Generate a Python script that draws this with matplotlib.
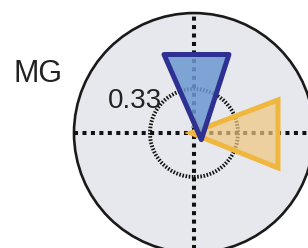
import matplotlib.pyplot as plt
from matplotlib.patches import Circle, Polygon

# polar-style direction plot, outer ring radius 0.9, reference ring 0.33
outer_r = 0.9
ref_r = 0.33
ref_label = "0.33"
row_label = "MG"

# triangle vertices (apex first), data units
blue_x = [0.055, -0.225, 0.262]
blue_y = [-0.05, 0.589, 0.589]
yellow_x = [-0.022, 0.63, 0.63]
yellow_y = [0.0, 0.248, -0.262]
gray_x = [0.008, -0.022, 0.038]
gray_y = [0.128, 0.038, 0.038]

fig = plt.figure(figsize=(3.08, 2.48), dpi=100)
ax = fig.add_axes([0, 0, 1, 1])
ax.set_xlim(-1.455, 0.855)
ax.set_ylim(-0.863, 0.998)
ax.axis("off")

ax.add_patch(Circle((0, 0), outer_r, facecolor="#e7e8ed", edgecolor="#1a1a1a",
                    lw=1.9, zorder=1))

# crosshair
ax.plot([-outer_r, outer_r], [0, 0], color="#111111", lw=2.9,
        linestyle=(0, (1, 1.1)), dash_capstyle="butt", zorder=2)
ax.plot([0, 0], [-outer_r, outer_r], color="#111111", lw=2.9,
        linestyle=(0, (1, 1.1)), dash_capstyle="butt", zorder=2)

# reference ring
ax.add_patch(Circle((0, 0), ref_r, fill=False, edgecolor="#111111", lw=2.8,
                    linestyle=(0, (0.4, 0.42)), zorder=2))
ax.text(-0.24, 0.19, ref_label, fontsize=20, family="Liberation Sans",
        ha="right", va="baseline", color="#222222", zorder=5)

ax.text(-1.35, 0.383, row_label, fontsize=22, family="Liberation Sans",
        ha="left", va="baseline", color="#222222")

ax.add_patch(Polygon(list(zip(yellow_x, yellow_y)), closed=True,
                     facecolor=(0.94, 0.78, 0.5, 0.7), edgecolor="#f0b73e",
                     lw=3.6, joinstyle="miter", zorder=3))
ax.add_patch(Polygon(list(zip(blue_x, blue_y)), closed=True,
                     facecolor=(0.42, 0.6, 0.82, 0.85), edgecolor="none",
                     zorder=4))
ax.add_patch(Polygon(list(zip(gray_x, gray_y)), closed=True,
                     facecolor="#8c9096", edgecolor="none", zorder=4.5))
ax.add_patch(Polygon(list(zip(blue_x, blue_y)), closed=True,
                     facecolor="none", edgecolor="#2e3192",
                     lw=3.6, joinstyle="round", zorder=4.6))

fig.savefig("out.png", dpi=100)
